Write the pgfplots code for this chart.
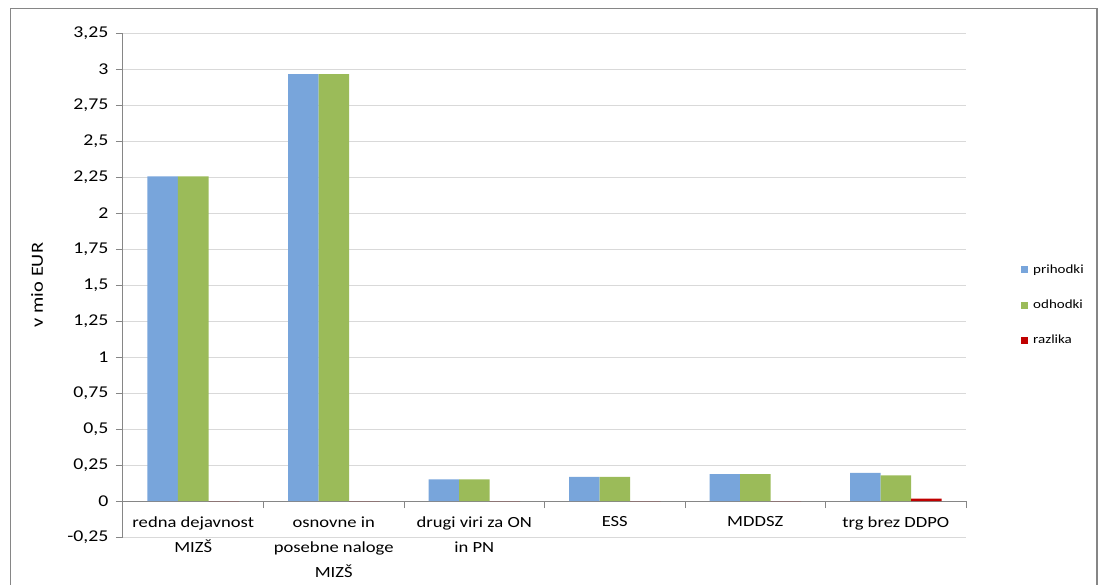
\documentclass[border=0pt]{standalone}
\usepackage{fontspec}
\setmainfont{Carlito}[FakeStretch=1.2]
\usepackage{pgfplots}
\pgfplotsset{compat=1.18}
\definecolor{cBlue}{HTML}{78A5DB}
\definecolor{cGreen}{HTML}{9BBB59}
\definecolor{cRed}{HTML}{C00000}
\definecolor{cAxis}{HTML}{868686}
\definecolor{cGrid}{HTML}{D9D9D9}
\pgfplotsset{sq/.style={legend image code/.code={\fill[##1] (0pt,-3.5pt) rectangle (7pt,3.5pt);}}}
\begin{document}
\begin{tikzpicture}[x=1pt,y=1pt]
\useasboundingbox (0,0) rectangle (1098,-585);
\draw[cAxis, line width=1.2pt] (10.5,-8.5) rectangle (1097,-600);
\begin{axis}[
  at={(123pt,-537pt)}, anchor=south west,
  scale only axis, width=843pt, height=504pt,
  xmin=-0.5, xmax=5.5, ymin=-0.25, ymax=3.25,
  axis x line=middle, axis y line=left,
  axis line style={-, draw=cAxis, line width=1pt},
  ybar=0pt, bar width=30.5pt,
  xtick={0,1,2,3,4,5},
  xticklabels={{redna dejavnost\\MIZŠ},{osnovne in\\posebne naloge\\MIZŠ},{drugi viri za ON\\in PN},{ESS},{MDDSZ},{trg brez DDPO}},
  major x tick style={draw=none},
  minor xtick={-0.5,0.5,1.5,2.5,3.5,4.5,5.5},
  minor tick length=7pt,
  tick align=outside,
  major tick length=7pt,
  tick style={draw=cAxis, line width=1pt},
  xticklabel style={align=center, font=\fontsize{15.5}{25}\selectfont, anchor=north, yshift=-5pt},
  ytick={-0.25,0,0.25,0.5,0.75,1,1.25,1.5,1.75,2,2.25,2.5,2.75,3,3.25},
  yticklabel style={font=\fontsize{16.5}{18}\selectfont, xshift=-4pt},
  /pgf/number format/.cd, use comma, fixed, precision=2, assume math mode=true,
  /pgfplots/.cd,
  ymajorgrids, major grid style={draw=cGrid, line width=1pt},
  ylabel={v mio EUR},
  every axis y label/.style={at={(axis description cs:-0.102,0.5)}, rotate=90, anchor=center, font=\fontsize{17}{19}\selectfont},
  legend style={at={(axis description cs:1.0617,0.46)}, anchor=west, draw=none, fill=none,
    font=\fontsize{12.5}{14}\selectfont, row sep=21pt, nodes={inner xsep=5pt}},
  legend cell align=left,
]
\addplot[fill=cBlue, draw=none, sq] coordinates {(0,2.255) (1,2.965) (2,0.15) (3,0.168) (4,0.186) (5,0.196)};
\addplot[fill=cGreen, draw=none, sq] coordinates {(0,2.255) (1,2.965) (2,0.15) (3,0.168) (4,0.186) (5,0.178)};
\addplot[fill=cRed, draw=none, sq] coordinates {(0,0) (1,0) (2,0) (3,0) (4,0) (5,0.016)};
\legend{prihodki,odhodki,razlika}
\end{axis}
\end{tikzpicture}
\end{document}
